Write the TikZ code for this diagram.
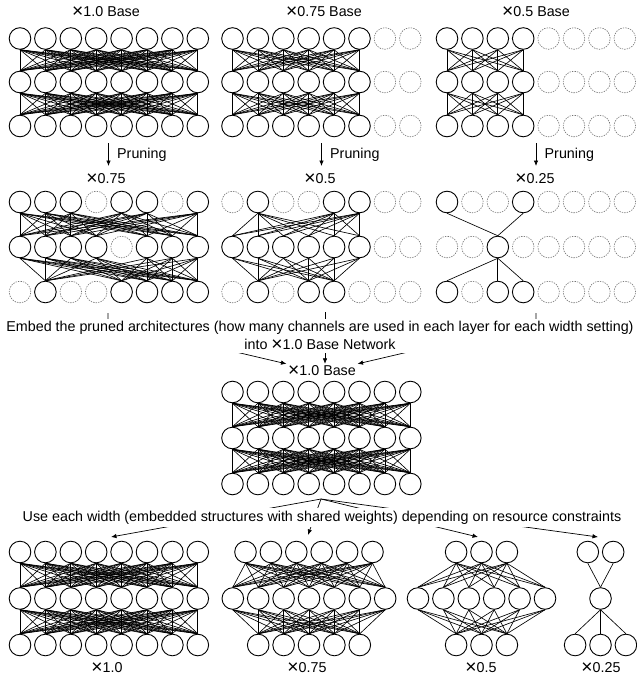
\documentclass[tikz,border=0pt]{standalone}
\usepackage{fontspec}
\usepackage{graphicx}
\setmainfont{Liberation Sans}
\usetikzlibrary{arrows.meta}
\newcommand\labfont{\fontsize{14.3bp}{18.5bp}\selectfont}
\newcommand\X{\raisebox{-0.9bp}{\scalebox{1.35}{×}}}
% one layer: #1 name prefix, #2 x of first circle, #3 y, #4 list of styles (nc solid, nd dashed)
\newcommand\netlayer[4]{\foreach \ty [count=\i from 0] in {#4} {\node[\ty] (#1-\i) at ({#2+25.4*\i},#3) {};}}
% full links: #1 upper layer, #2 its indices, #3 lower layer, #4 its indices
\newcommand\netlinks[4]{\foreach \a in {#2} {\foreach \b in {#4} {\draw[ed] (#1-\a.south) -- (#3-\b.north);}}}
\begin{document}
\begin{tikzpicture}[x=1bp,y=-1bp,
  nc/.style={circle,draw,line width=0.9bp,minimum size=21.6bp,inner sep=0pt},
  nd/.style={circle,draw=black!55,dash pattern=on 1.4bp off 1.1bp,line width=0.6bp,minimum size=21.6bp,inner sep=0pt},
  ed/.style={line width=0.65bp},
  arr/.style={-{Latex[length=5.5bp,width=4.5bp]},line width=0.7bp},
  lb/.style={font=\labfont,inner sep=1.5bp},
  blb/.style={font=\labfont,inner sep=0pt,anchor=base},
  wbox/.style={font=\labfont,fill=white,inner sep=2.5bp,align=center}]
\useasboundingbox (0,0) rectangle (637,678);

% ---------- top row: base networks ----------
\node[lb] (tA) at (106,12) {\X1.0 Base};
\netlayer{A1}{20}{38.5}{nc,nc,nc,nc,nc,nc,nc,nc}
\netlayer{A2}{20}{82}{nc,nc,nc,nc,nc,nc,nc,nc}
\netlayer{A3}{20}{126}{nc,nc,nc,nc,nc,nc,nc,nc}
\netlinks{A1}{0,...,7}{A2}{0,...,7}
\netlinks{A2}{0,...,7}{A3}{0,...,7}

\node[lb] (tB) at (324,12) {\X0.75 Base};
\netlayer{B1}{232.5}{38.5}{nc,nc,nc,nc,nc,nc,nd,nd}
\netlayer{B2}{232.5}{82}{nc,nc,nc,nc,nc,nc,nd,nd}
\netlayer{B3}{232.5}{126}{nc,nc,nc,nc,nc,nc,nd,nd}
\netlinks{B1}{0,...,5}{B2}{0,...,5}
\netlinks{B2}{0,...,5}{B3}{0,...,5}

\node[lb] (tC) at (536,12) {\X0.5 Base};
\netlayer{C1}{447}{38.5}{nc,nc,nc,nc,nd,nd,nd,nd}
\netlayer{C2}{447}{82}{nc,nc,nc,nc,nd,nd,nd,nd}
\netlayer{C3}{447}{126}{nc,nc,nc,nc,nd,nd,nd,nd}
\netlinks{C1}{0,...,3}{C2}{0,...,3}
\netlinks{C2}{0,...,3}{C3}{0,...,3}

% ---------- pruning arrows ----------
\coordinate (pa1) at (108.5,143); \coordinate (pb1) at (108.5,166);
\coordinate (pa2) at (321.5,143); \coordinate (pb2) at (321.5,166);
\coordinate (pa3) at (536,143); \coordinate (pb3) at (536,166);
\draw[arr] (pa1) -- (pb1);
\draw[arr] (pa2) -- (pb2);
\draw[arr] (pa3) -- (pb3);
\node[lb,anchor=west] (pr1) at (115.5,155) {Pruning};
\node[lb,anchor=west] (pr2) at (328.5,155) {Pruning};
\node[lb,anchor=west] (pr3) at (543,155) {Pruning};

% ---------- second row: pruned networks ----------
\node[lb] (tD) at (106,179) {\X0.75};
\netlayer{D1}{20}{202}{nc,nc,nc,nd,nc,nc,nd,nc}
\netlayer{D2}{20}{247}{nc,nc,nc,nc,nd,nc,nc,nc}
\netlayer{D3}{20}{292}{nd,nc,nd,nd,nc,nc,nc,nc}
\netlinks{D1}{0,1,2,4,5,7}{D2}{0,1,2,3,5,6,7}
\netlinks{D2}{0,1,2,3,5,6,7}{D3}{1,4,5,6,7}

\node[lb] (tE) at (320,179) {\X0.5};
\netlayer{E1}{232.5}{202}{nd,nc,nd,nd,nc,nc,nd,nd}
\netlayer{E2}{232.5}{247}{nc,nc,nc,nc,nc,nc,nd,nd}
\netlayer{E3}{232.5}{292}{nd,nc,nd,nc,nc,nd,nd,nd}
\netlinks{E1}{1,4,5}{E2}{0,...,5}
\netlinks{E2}{0,...,5}{E3}{1,3,4}

\node[lb] (tF) at (535,179) {\X0.25};
\netlayer{F1}{447}{202}{nc,nd,nd,nc,nd,nd,nd,nd}
\netlayer{F2}{447}{247}{nd,nd,nc,nd,nd,nd,nd,nd}
\netlayer{F3}{447}{292}{nc,nd,nc,nc,nd,nd,nd,nd}
\netlinks{F1}{0,3}{F2}{2}
\netlinks{F2}{2}{F3}{0,2,3}

% ---------- embedded base network ----------
\node[lb] (gl) at (322,371) {\X1.0 Base};
\netlayer{G1}{232.5}{392}{nc,nc,nc,nc,nc,nc,nc,nc}
\netlayer{G2}{232.5}{438}{nc,nc,nc,nc,nc,nc,nc,nc}
\netlayer{G3}{232.5}{484}{nc,nc,nc,nc,nc,nc,nc,nc}
\netlinks{G1}{0,...,7}{G2}{0,...,7}
\netlinks{G2}{0,...,7}{G3}{0,...,7}

\coordinate (el) at (108,313); \coordinate (elb) at (108,322);
\coordinate (er) at (536,313); \coordinate (erb) at (536,322);
\coordinate (em) at (325,312);
\draw[arr] (el) -- (elb) -- (gl.north west);
\draw[arr] (er) -- (erb) -- (gl.north east);
\draw[arr] (em) -- (em |- gl.north);
\node[wbox] (embed) at (320,336) {Embed the pruned architectures (how many channels are used in each layer for each width setting)\\into \X1.0 Base Network};

% ---------- bottom: usable widths ----------
\netlayer{H1}{20}{552}{nc,nc,nc,nc,nc,nc,nc,nc}
\netlayer{H2}{20}{598.5}{nc,nc,nc,nc,nc,nc,nc,nc}
\netlayer{H3}{20}{645}{nc,nc,nc,nc,nc,nc,nc,nc}
\netlinks{H1}{0,...,7}{H2}{0,...,7}
\netlinks{H2}{0,...,7}{H3}{0,...,7}

\netlayer{I1}{245.5}{552}{nc,nc,nc,nc,nc,nc}
\netlayer{I2}{232.8}{598.5}{nc,nc,nc,nc,nc,nc,nc}
\netlayer{I3}{258.2}{645}{nc,nc,nc,nc,nc}
\netlinks{I1}{0,...,5}{I2}{0,...,6}
\netlinks{I2}{0,...,6}{I3}{0,...,4}

\netlayer{J1}{456.1}{552}{nc,nc,nc}
\netlayer{J2}{418}{598.5}{nc,nc,nc,nc,nc,nc}
\netlayer{J3}{456.1}{645}{nc,nc,nc}
\netlinks{J1}{0,1,2}{J2}{0,...,5}
\netlinks{J2}{0,...,5}{J3}{0,1,2}

\netlayer{K1}{587.8}{552}{nc,nc}
\netlayer{K2}{600.5}{598.5}{nc}
\netlayer{K3}{575.1}{645}{nc,nc,nc}
\netlinks{K1}{0,1}{K2}{0}
\netlinks{K2}{0}{K3}{0,1,2}

\coordinate (bs) at (321,499);
\coordinate (t1) at (111,537);
\coordinate (t2) at (308,535);
\coordinate (t3) at (478,537);
\coordinate (t4) at (598,537);
\draw[arr] (bs) -- (t1);
\draw[arr] (bs) -- (t2);
\draw[arr] (bs) -- (t3);
\draw[arr] (bs) -- (t4);
\node[wbox] (use) at (322,517.5) {Use each width (embedded structures with shared weights) depending on resource constraints};

\node[blb] (bH) at (107,672.5) {\X1.0};
\node[blb] (bI) at (307,672.5) {\X0.75};
\node[blb] (bJ) at (481,672.5) {\X0.5};
\node[blb] (bK) at (601,672.5) {\X0.25};
\end{tikzpicture}
\end{document}
